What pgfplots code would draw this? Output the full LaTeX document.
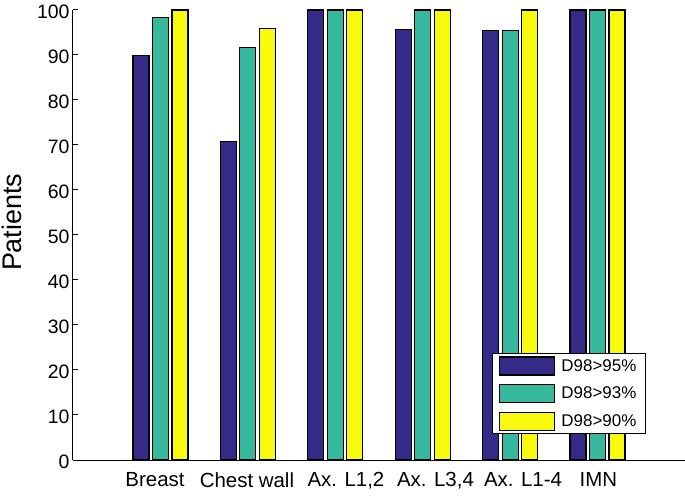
\documentclass[border=0pt]{standalone}
\usepackage{fontspec}
\setmainfont{Liberation Sans}
\usepackage{pgfplots}
\pgfplotsset{compat=1.18}
\definecolor{c1}{HTML}{352A87}
\definecolor{c2}{HTML}{36B89C}
\definecolor{c3}{HTML}{F9FB0E}
\pgfplotsset{mylegend/.style={legend image code/.code={\draw[##1,draw=black,line width=1.2bp] (0bp,-9bp) rectangle (55bp,9bp);\path (59bp,0bp);}}}
\begin{document}
\begin{tikzpicture}
\begin{axis}[
  scale only axis, width=612bp, height=450bp,
  xmin=0, xmax=7, ymin=0, ymax=100,
  ybar, bar width=0.183,
  mylegend,
  axis x line=bottom, axis y line=left,
  axis line style={-, line width=1bp, black},
  xtick={0.938,1.990,3.122,4.146,5.147,6.010},
  xticklabels={Breast,Chest wall,{Ax. L1,2},{Ax. L3,4},Ax. L1-4,IMN},
  major x tick style={draw=none},
  ytick={0,10,...,100}, tick align=inside, major tick length=5bp,
  major y tick style={line width=1bp, black},
  yticklabel style={font=\fontsize{19.5}{22}\selectfont, yshift=-1.5bp},
  xticklabel style={font=\fontsize{20.5}{22}\selectfont, yshift=-9bp},
  /pgf/number format/assume math mode=true,
  ylabel={Patients},
  ylabel style={font=\fontsize{27}{30}\selectfont, at={(rel axis cs:-0.078,0.528)}, anchor=south},
  legend style={at={(0.936,0.238)}, anchor=north east, font=\fontsize{17}{20}\selectfont,
    draw=black, line width=1bp, inner xsep=7bp, inner ysep=3bp, row sep=8.5bp},
  legend cell align=left,
  clip=false,
]
\addplot[fill=c1, draw=black, line width=1.2bp, bar shift=-0.223]
  coordinates {(1,89.8) (2,70.8) (3,100) (4,95.6) (5,95.5) (6,100)};
\addplot[fill=c2, draw=black, line width=1.2bp, bar shift=0]
  coordinates {(1,98.3) (2,91.7) (3,100) (4,100) (5,95.5) (6,100)};
\addplot[fill=c3, draw=black, line width=1.2bp, bar shift=0.223]
  coordinates {(1,100) (2,95.8) (3,100) (4,100) (5,100) (6,100)};
\legend{D98>95\%, D98>93\%, D98>90\%}
\end{axis}
\pgfresetboundingbox
\path (current axis.south west) ++(-73bp,-38bp) coordinate (bbA);
\path (current axis.north east) ++(0bp,10bp) coordinate (bbB);
\useasboundingbox (bbA) rectangle (bbB);
\end{tikzpicture}
\end{document}
